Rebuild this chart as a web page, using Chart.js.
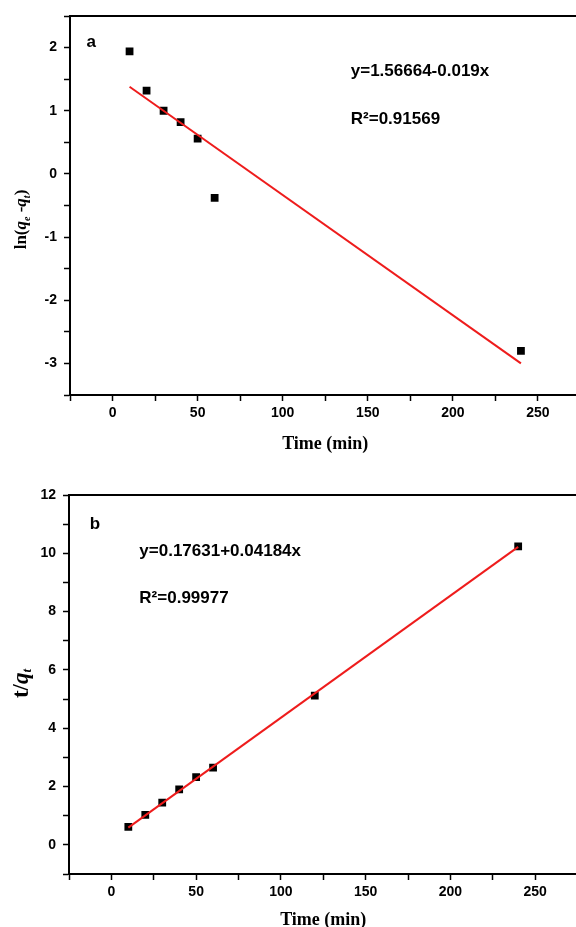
<!DOCTYPE html>
<html>
<head>
<meta charset="utf-8">
<script src="https://cdn.jsdelivr.net/npm/chart.js@4/dist/chart.umd.min.js"></script>
<style>
  html, body { margin: 0; padding: 0; background: #fff; overflow: hidden; }
  #wrap { position: relative; width: 576px; height: 927px; overflow: hidden; }
  canvas { position: absolute; left: 0; }
  #chart-a { top: 0; }
  #chart-b { top: 463px; }
</style>
</head>
<body>
<div id="wrap">
  <canvas id="chart-a" width="586" height="463"></canvas>
  <canvas id="chart-b" width="583" height="480"></canvas>
</div>
<script>
// Panel a: pseudo-first-order, ln(qe-qt) vs time
const timeA = [10, 20, 30, 40, 50, 60, 240];
const lnA = [1.94, 1.32, 1.00, 0.82, 0.56, -0.38, -2.80];
const fitXA = [10, 240];
const fitYA = [1.38, -3.00];

// Panel b: pseudo-second-order, t/qt vs time
const timeB = [10, 20, 30, 40, 50, 60, 120, 240];
const tqB = [0.62, 1.03, 1.45, 1.90, 2.32, 2.65, 5.12, 10.24];
const fitXB = [10, 240];
const fitYB = [0.59, 10.22];

const xTickLabels = [0, 50, 100, 150, 200, 250];
const eqA = 'y=1.56664-0.019x';
const r2A = 'R\u00b2=0.91569';
const eqB = 'y=0.17631+0.04184x';
const r2B = 'R\u00b2=0.99977';

const RED = '#ee1c1c';
const SANS = "'Liberation Sans', Arial, sans-serif";
const SERIF = "'Liberation Serif', 'Times New Roman', serif";

function toPoints(xs, ys) {
  return xs.map((x, i) => ({ x: x, y: ys[i] }));
}

// frame line on top + text notes + rich y title
const extras = {
  id: 'extras',
  afterDraw(chart, args, opts) {
    const { ctx, chartArea: a, scales } = chart;
    ctx.save();
    ctx.strokeStyle = '#000';
    ctx.lineWidth = 2;
    ctx.beginPath();
    ctx.moveTo(a.left - 1, a.top);
    ctx.lineTo(chart.width, a.top);
    ctx.stroke();

    ctx.fillStyle = '#000';
    ctx.textBaseline = 'middle';
    ctx.textAlign = 'left';
    (opts.notes || []).forEach(n => {
      ctx.font = 'bold 17px ' + SANS;
      ctx.fillText(n.text, scales.x.getPixelForValue(n.x), scales.y.getPixelForValue(n.y));
    });

    // y title made of pieces, rotated
    const parts = opts.yTitle || [];
    let total = 0;
    parts.forEach(p => { ctx.font = p.font; p.w = ctx.measureText(p.t).width; total += p.w; });
    const cy = (a.top + a.bottom) / 2 + (opts.yTitleShift || 0);
    ctx.translate(opts.yTitleX, cy);
    ctx.rotate(-Math.PI / 2);
    let px = -total / 2;
    parts.forEach(p => {
      ctx.font = p.font;
      ctx.fillText(p.t, px, p.dy || 0);
      px += p.w;
    });
    ctx.restore();
  }
};

function makeChart(id, cfg) {
  return new Chart(document.getElementById(id), {
    type: 'scatter',
    data: {
      datasets: [{
        label: 'fit',
        data: toPoints(cfg.fitX, cfg.fitY),
        showLine: true,
        borderColor: RED,
        borderWidth: 2,
        pointRadius: 0,
        order: 0
      }, {
        label: 'data',
        data: toPoints(cfg.xs, cfg.ys),
        pointStyle: 'rect',
        pointRadius: 5.5,
        backgroundColor: '#000',
        borderColor: '#000',
        borderWidth: 0,
        order: 1
      }]
    },
    options: {
      responsive: false,
      animation: false,
      layout: { padding: { top: cfg.padTop, right: 0, left: 0, bottom: 0 } },
      plugins: {
        legend: { display: false },
        tooltip: { enabled: false },
        extras: { notes: cfg.notes, yTitle: cfg.yTitle, yTitleX: 22, yTitleShift: cfg.yTitleShift }
      },
      scales: {
        x: {
          type: 'linear',
          min: -25,
          max: 275,
          afterFit: s => { s.height = cfg.xHeight; },
          ticks: {
            stepSize: 25,
            autoSkip: false,
            maxRotation: 0,
            padding: 4,
            color: '#000',
            font: { family: SANS, size: 14, weight: 'bold' },
            callback: v => (xTickLabels.includes(v) ? String(v) : '')
          },
          grid: {
            drawOnChartArea: false,
            tickLength: 6,
            tickWidth: 1.5,
            tickColor: '#000'
          },
          border: { display: true, color: '#000', width: 2 },
          title: {
            display: true,
            text: 'Time (min)',
            color: '#000',
            font: { family: SERIF, size: 18, weight: 'bold' },
            padding: { top: 0, bottom: cfg.xTitlePad }
          }
        },
        y: {
          type: 'linear',
          min: cfg.yMin,
          max: cfg.yMax,
          afterFit: s => { s.width = cfg.yWidth; },
          ticks: {
            stepSize: cfg.yStep,
            autoSkip: false,
            padding: 7,
            color: '#000',
            font: { family: SANS, size: 14, weight: 'bold' },
            callback: cfg.yLabel
          },
          grid: {
            drawOnChartArea: false,
            tickLength: 6,
            tickWidth: 1.5,
            tickColor: '#000'
          },
          border: { display: true, color: '#000', width: 2 }
        }
      }
    },
    plugins: [extras]
  });
}

makeChart('chart-a', {
  xs: timeA, ys: lnA, fitX: fitXA, fitY: fitYA,
  yMin: -3.5, yMax: 2.5, yStep: 0.5,
  yLabel: v => (Number.isInteger(v) ? String(v) : ''),
  padTop: 16, yWidth: 70, xHeight: 68, xTitlePad: 8, yTitleShift: 14,
  notes: [
    { text: 'a', x: -15.3, y: 2.08 },
    { text: eqA, x: 140, y: 1.62 },
    { text: r2A, x: 140, y: 0.87 }
  ],
  yTitle: [
    { t: 'ln(', font: 'bold 17px ' + SERIF },
    { t: 'q', font: 'italic bold 17px ' + SERIF },
    { t: 'e', font: 'italic bold 10px ' + SERIF, dy: 5 },
    { t: ' -', font: 'bold 17px ' + SERIF },
    { t: 'q', font: 'italic bold 17px ' + SERIF },
    { t: 't', font: 'italic bold 10px ' + SERIF, dy: 5 },
    { t: ')', font: 'bold 17px ' + SERIF }
  ]
});

makeChart('chart-b', {
  xs: timeB, ys: tqB, fitX: fitXB, fitY: fitYB,
  yMin: -1, yMax: 12, yStep: 1,
  yLabel: v => (v % 2 === 0 ? String(v) : ''),
  padTop: 32, yWidth: 69, xHeight: 69, xTitlePad: 12, yTitleShift: -1,
  notes: [
    { text: 'b', x: -12.8, y: 11.0 },
    { text: eqB, x: 16.5, y: 10.06 },
    { text: r2B, x: 16.5, y: 8.45 }
  ],
  yTitle: [
    { t: 't/', font: 'bold 23px ' + SERIF },
    { t: 'q', font: 'italic bold 23px ' + SERIF },
    { t: 't', font: 'italic bold 13px ' + SERIF, dy: 6 }
  ]
});
</script>
</body>
</html>
